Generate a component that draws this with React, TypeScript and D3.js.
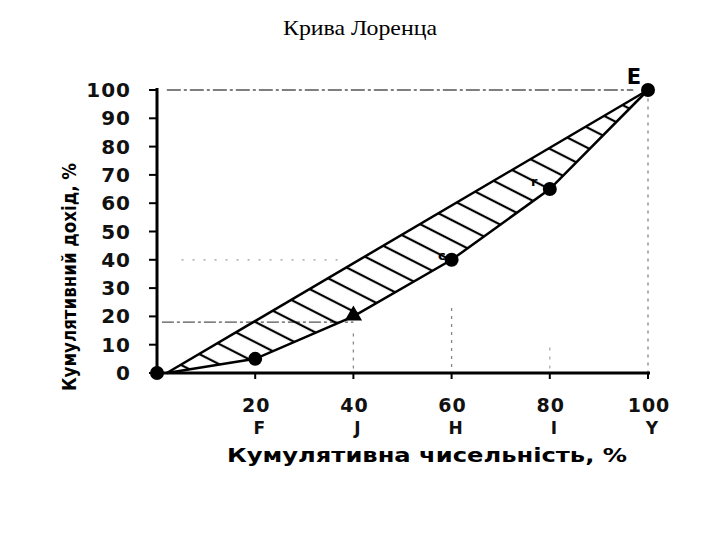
import * as d3 from "d3";

// Lorenz curve points (cumulative population %, cumulative income %)
const popShare = [0, 20, 40, 60, 80, 100];
const incomeShare = [0, 5, 20, 40, 65, 100];
const pointShapes = ["circle", "circle", "triangle", "circle", "circle", "circle"];
// line of equality drawn in the picture
const equalityX = [2, 100];
const equalityY = [0, 100];
// curve starts where the equality line meets the axis
const curveStartX = 2;

const yTicks = [0, 10, 20, 30, 40, 50, 60, 70, 80, 90, 100];
const xTicks = [20, 40, 60, 80, 100];
const xLetters = ["F", "J", "H", "I", "Y"];

const W = 720;
const H = 540;

export default function App() {
  const x = d3.scaleLinear().domain([0, 100]).range([157, 648]);
  const y = d3.scaleLinear().domain([0, 100]).range([373, 90]);

  const upper: [number, number][] = equalityX.map((v, i) => [v, equalityY[i]]);
  const lower: [number, number][] = [[curveStartX, 0]].concat(
    popShare.slice(1).map((v, i) => [v, incomeShare[i + 1]])
  ) as [number, number][];

  const line = d3
    .line<[number, number]>()
    .x((d) => x(d[0]))
    .y((d) => y(d[1]));

  const areaPts = upper.concat(lower.slice().reverse());

  const tickFont = "DejaVu Sans, Verdana, sans-serif";

  return (
    <svg width={W} height={H} style={{ position: "absolute", left: 0, top: 0, background: "#fff" }}>
      <defs>
        <pattern
          id="hatch"
          patternUnits="userSpaceOnUse"
          width={18}
          height={18}
          patternTransform="rotate(27)"
        >
          <line x1={0} y1={9} x2={18} y2={9} stroke="#000" strokeWidth={2.2} />
        </pattern>
      </defs>

      <text
        x={360}
        y={35}
        textAnchor="middle"
        fontFamily="Liberation Serif, Times New Roman, serif"
        fontSize={21}
        textLength={154}
        lengthAdjust="spacingAndGlyphs"
      >
        Крива Лоренца
      </text>

      {/* faint reference lines */}
      <g stroke="#555" strokeWidth={1.3} fill="none">
        <line x1={x(2)} x2={x(97)} y1={y(100)} y2={y(100)} strokeDasharray="14 3 3 3" />
        <line x1={x(1)} x2={x(40)} y1={y(18)} y2={y(18)} strokeDasharray="12 3 3 3" />
        <line x1={x(5)} x2={x(37)} y1={y(40)} y2={y(40)} strokeDasharray="2 9" stroke="#999" />
        <line x1={x(100)} x2={x(100)} y1={y(97)} y2={y(0)} strokeDasharray="3 5" stroke="#888" />
        <line x1={x(60)} x2={x(60)} y1={y(23)} y2={y(0)} strokeDasharray="3 5" stroke="#888" />
        <line x1={x(40)} x2={x(40)} y1={y(14)} y2={y(0)} strokeDasharray="3 5" stroke="#888" />
        <line x1={x(80)} x2={x(80)} y1={y(9)} y2={y(0)} strokeDasharray="3 6" stroke="#aaa" />
      </g>

      {/* hatched inequality area */}
      <path d={line(areaPts) + "Z"} fill="url(#hatch)" stroke="none" />
      <path d={line(upper) ?? ""} fill="none" stroke="#000" strokeWidth={2.5} />
      <path d={line(lower) ?? ""} fill="none" stroke="#000" strokeWidth={2.5} />

      {/* axes */}
      <g stroke="#000">
        <line x1={x(0)} x2={x(0)} y1={y(100) - 2} y2={y(0) + 3} strokeWidth={3} />
        <line x1={x(0)} x2={x(100) + 2} y1={y(0)} y2={y(0)} strokeWidth={3} />
        {yTicks.map((t) => (
          <line key={"yt" + t} x1={x(0) - 8} x2={x(0)} y1={y(t)} y2={y(t)} strokeWidth={2} />
        ))}
        {xTicks.map((t) => (
          <line key={"xt" + t} x1={x(t)} x2={x(t)} y1={y(0)} y2={y(0) + 6} strokeWidth={2} />
        ))}
      </g>

      <g fontFamily={tickFont} fontSize={20} fontWeight="bold" fill="#111">
        {yTicks.map((t) => (
          <text key={"yl" + t} x={131} y={y(t) + 7} textAnchor="end" letterSpacing={1}>
            {t}
          </text>
        ))}
        {xTicks.map((t, i) => (
          <g key={"xl" + t}>
            <text x={x(t) + 1} y={412} textAnchor="middle" letterSpacing={1} fontSize={19}>
              {t}
            </text>
            <text x={x(t) + 4} y={434} textAnchor="middle" fontSize={17}>
              {xLetters[i]}
            </text>
          </g>
        ))}
      </g>

      <text
        x={427}
        y={462}
        textAnchor="middle"
        fontFamily={tickFont}
        fontSize={20}
        fontWeight="bold"
        textLength={400}
        lengthAdjust="spacingAndGlyphs"
      >
        Кумулятивна чисельність, %
      </text>
      <text
        transform="translate(76,277) rotate(-90)"
        textAnchor="middle"
        fontFamily={tickFont}
        fontSize={20}
        fontWeight="bold"
        textLength={228}
        lengthAdjust="spacingAndGlyphs"
      >
        Кумулятивний дохід, %
      </text>

      <text x={634} y={84} textAnchor="middle" fontFamily={tickFont} fontSize={21} fontWeight="bold">
        E
      </text>
      <text x={438} y={260} fontFamily={tickFont} fontSize={13} fontWeight="bold">
        c
      </text>
      <text x={531} y={186} fontFamily={tickFont} fontSize={13} fontWeight="bold">
        r
      </text>

      {/* point markers */}
      {popShare.map((p, i) =>
        pointShapes[i] === "triangle" ? (
          <path
            key={"m" + i}
            transform={`translate(${x(p)},${y(incomeShare[i]) - 1})`}
            d={d3.symbol().type(d3.symbolTriangle).size(130)() ?? ""}
            fill="#000"
          />
        ) : (
          <circle key={"m" + i} cx={x(p)} cy={y(incomeShare[i])} r={7} fill="#000" />
        )
      )}
    </svg>
  );
}
